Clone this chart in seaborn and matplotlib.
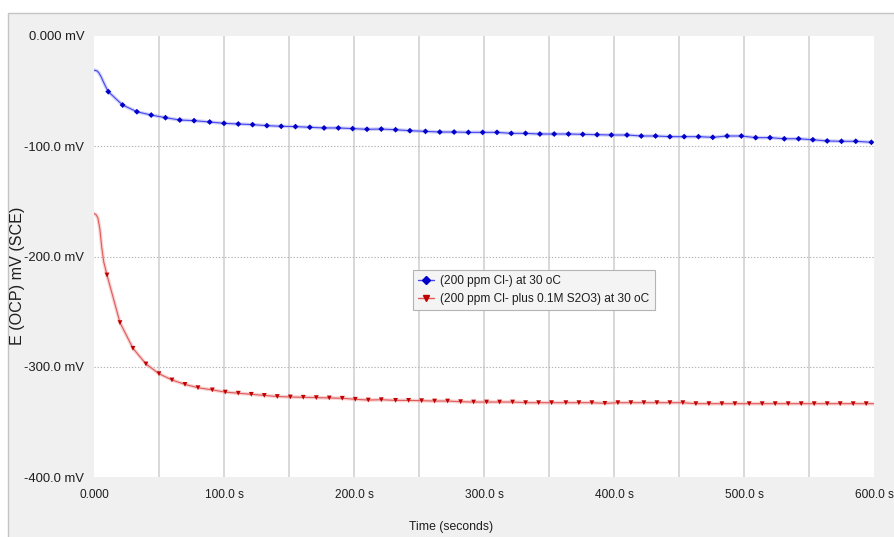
import numpy as np
import pandas as pd
import matplotlib
matplotlib.use("Agg")
import matplotlib.pyplot as plt
from matplotlib.lines import Line2D
from matplotlib.patches import Rectangle
from matplotlib.ticker import MultipleLocator, FixedLocator, FixedFormatter
import seaborn as sns

# ---- data -------------------------------------------------------------
series_names = ["(200 ppm Cl-) at 30 oC",
                "(200 ppm Cl- plus 0.1M S2O3) at 30 oC"]

# Chloride only: early readings (no marker) then marked readings
cl_early_t = [0, 2, 3.5, 5.5, 7, 9]
cl_early_e = [-31.0, -31.5, -33.0, -37.0, -41.0, -46.0]
cl_t = [11, 22, 33, 44, 55, 66, 77, 89, 100, 111, 122, 133, 144, 155, 166,
        177, 188, 199, 210, 221, 232, 243, 255, 266, 277, 288, 299, 310, 321,
        332, 343, 354, 365, 376, 387, 398, 410, 421, 432, 443, 454, 465, 476,
        487, 498, 509, 520, 531, 542, 553, 564, 575, 586, 598]
cl_e = [-50.5, -62.6, -68.7, -71.7, -74.1, -76.2, -76.8, -78.0, -79.2, -79.8,
        -80.4, -81.3, -81.9, -82.2, -82.8, -83.4, -83.4, -84.0, -84.6, -84.4,
        -85.0, -85.9, -86.5, -87.1, -87.1, -87.4, -87.4, -87.4, -88.3, -88.3,
        -88.9, -88.9, -88.9, -89.2, -89.5, -89.8, -89.8, -90.7, -90.7, -91.3,
        -91.3, -91.3, -91.9, -90.7, -90.7, -92.2, -92.2, -93.2, -93.2, -94.1,
        -95.2, -95.5, -95.5, -96.4]

# Chloride plus thiosulfate
th_early_t = [0, 1.5, 3, 4.5, 6, 7.5]
th_early_e = [-161.0, -162.0, -165.0, -175.0, -192.0, -205.0]
th_t = [10, 20, 30, 40, 50, 60, 70, 80, 91, 101, 111, 121, 131, 141, 151, 161,
        171, 181, 191, 201, 211, 221, 232, 242, 252, 262, 272, 282, 292, 302,
        312, 322, 332, 342, 352, 363, 373, 383, 393, 403, 413, 423, 433, 443,
        453, 463, 473, 483, 493, 504, 514, 524, 534, 544, 554, 564, 574, 584,
        594]
th_tail_t = [600]
th_tail_e = [-333.5]
th_e = [-216.8, -260.0, -283.3, -297.5, -306.3, -312.0, -316.0, -319.0, -321.0,
        -323.0, -324.0, -325.0, -326.0, -327.0, -327.4, -327.7, -328.0, -328.3,
        -328.6, -329.5, -330.2, -329.9, -330.5, -330.5, -330.8, -331.1, -331.1,
        -331.7, -332.0, -332.0, -332.0, -332.0, -332.6, -332.6, -332.6, -332.6,
        -332.6, -332.6, -333.2, -332.6, -332.6, -332.6, -332.6, -332.6, -332.6,
        -333.5, -333.5, -333.5, -333.5, -333.5, -333.5, -333.5, -333.5, -333.5,
        -333.5, -333.5, -333.5, -333.5, -333.5]

x_ticks = [0, 100, 200, 300, 400, 500, 600]
x_labels = ["0.000", "100.0 s", "200.0 s", "300.0 s", "400.0 s", "500.0 s", "600.0 s"]
y_ticks = [0, -100, -200, -300, -400]
y_labels = ["0.000 mV", "-100.0 mV", "-200.0 mV", "-300.0 mV", "-400.0 mV"]

# ---- tidy table -------------------------------------------------------
def build(name, et, ee, t, e, tt=(), te=()):
    return pd.DataFrame({
        "series": name,
        "time": list(et) + list(t) + list(tt),
        "E": list(ee) + list(e) + list(te),
        "marked": [False] * len(et) + [True] * len(t) + [False] * len(tt),
    })

df = pd.concat([build(series_names[0], cl_early_t, cl_early_e, cl_t, cl_e),
                build(series_names[1], th_early_t, th_early_e, th_t, th_e,
                      th_tail_t, th_tail_e)], ignore_index=True)

line_col = {series_names[0]: "#4646f0", series_names[1]: "#e05a5a"}
band_col = {series_names[0]: "#a8a8f2", series_names[1]: "#f2a8a8"}
mark_col = {series_names[0]: "#0000c8", series_names[1]: "#c00000"}
mark_shape = {series_names[0]: "D", series_names[1]: "v"}
mark_size = {series_names[0]: 9, series_names[1]: 12}

# ---- figure -----------------------------------------------------------
sns.set_style("white")
plt.rcParams["font.family"] = ["Liberation Sans", "DejaVu Sans"]
tc = "#1e1e1e"

fig = plt.figure(figsize=(8.94, 5.37), dpi=100, facecolor="white")
W, H = 894, 537
fig.patches.append(Rectangle((8 / W, -0.01), 1 - 8 / W + 0.01, 1 - 13 / H + 0.01,
                             transform=fig.transFigure, facecolor="#f0f0f0",
                             edgecolor="#c4c4c4", linewidth=1.0, zorder=-10))

ax = fig.add_axes([94 / W, 1 - 477 / H, (874 - 94) / W, (477 - 36) / H])
ax.set_zorder(2)
ax.set_facecolor("white")

# soft band under each trace, then the thin line on top
sns.lineplot(data=df, x="time", y="E", hue="series", palette=band_col,
             linewidth=2.6, alpha=0.5, legend=False, ax=ax, sort=False,
             estimator=None)
sns.lineplot(data=df, x="time", y="E", hue="series", palette=line_col,
             linewidth=0.8, legend=False, ax=ax, sort=False, estimator=None)
marked = df[df["marked"]]
sns.scatterplot(data=marked, x="time", y="E", hue="series", style="series",
                size="series", sizes=mark_size,
                palette=mark_col, markers=mark_shape, linewidth=0,
                legend=False, ax=ax, zorder=5)

ax.set_xlim(0, 600)
ax.set_ylim(-400, 0)

# grid: solid verticals every 50 s, dotted horizontals at the labelled levels
for gx in range(50, 600, 50):
    ax.axvline(gx, color="#d8d8d8", linewidth=1.4, zorder=0)
for gy in y_ticks[1:-1]:
    ax.axhline(gy, color="#b4b4b4", linewidth=0.8, linestyle=(0, (1.2, 1.6)),
               zorder=0)

for s in ax.spines.values():
    s.set_visible(False)

ax.xaxis.set_major_locator(FixedLocator(x_ticks))
ax.xaxis.set_major_formatter(FixedFormatter(x_labels))
ax.xaxis.set_minor_locator(FixedLocator([50, 150, 250, 350, 450, 550]))
ax.tick_params(axis="x", which="major", length=0, pad=9, labelsize=8.6,
               labelcolor=tc)
ax.tick_params(axis="x", which="minor", length=3, color="#d8d8d8", width=1.2)

ax.yaxis.set_major_locator(FixedLocator(y_ticks))
ax.yaxis.set_major_formatter(FixedFormatter(y_labels))
ax.yaxis.set_minor_locator(MultipleLocator(20))
ax.tick_params(axis="y", which="both", length=3, color="#b8b8b8", width=0.8,
               pad=4, labelsize=9.4, labelcolor=tc)

ax.set_xlabel("")
ax.set_ylabel("")
fig.text(18 / W, 1 - 276 / H, "E (OCP) mV (SCE)", rotation=90, fontsize=11.6,
         color=tc, ha="center", va="center")
fig.text(451 / W, 1 - 527 / H, "Time (seconds)", fontsize=8.8, color=tc,
         ha="center", va="center")

handles = [Line2D([], [], color=line_col[n], linewidth=1.0,
                  marker=mark_shape[n],
                  markersize=5 if n == series_names[1] else 4,
                  markerfacecolor=mark_col[n], markeredgecolor=mark_col[n])
           for n in series_names]
leg = ax.legend(handles, series_names, loc="upper left",
                bbox_to_anchor=(413 / W, 1 - 270 / H),
                bbox_transform=fig.transFigure, borderaxespad=0,
                fontsize=8.6, handlelength=1.3, handletextpad=0.5,
                borderpad=0.45, labelspacing=0.45, fancybox=False,
                framealpha=1, edgecolor="#b4b4b4", facecolor="#f4f4f4")
leg.get_frame().set_linewidth(0.8)
for t in leg.get_texts():
    t.set_color(tc)

fig.savefig("out.png", dpi=100, facecolor=fig.get_facecolor())
